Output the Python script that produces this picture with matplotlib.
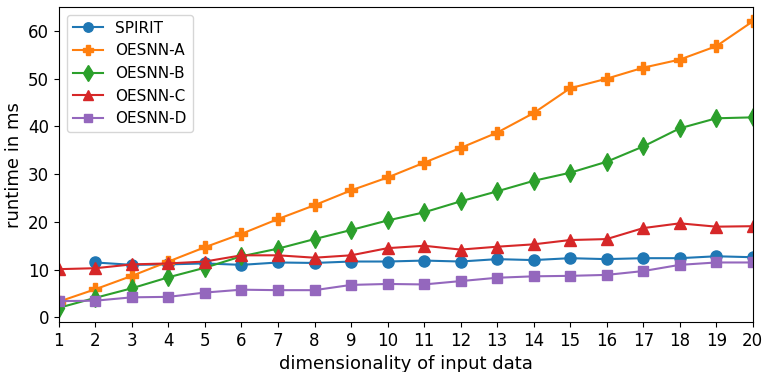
import numpy as np
import matplotlib.pyplot as plt

dims = list(range(1, 21))

spirit = [np.nan, 11.5, 11.0, 11.1, 11.3, 11.0, 11.5, 11.4, 11.7, 11.7,
          11.9, 11.7, 12.2, 12.0, 12.4, 12.2, 12.4, 12.4, 12.8, 12.6]
oesnn_a = [3.3, 5.9, 8.7, 11.7, 14.7, 17.5, 20.6, 23.5, 26.6, 29.3,
           32.4, 35.5, 38.7, 42.8, 48.0, 50.0, 52.3, 54.0, 56.8, 62.0]
oesnn_b = [2.0, 4.1, 6.1, 8.4, 10.4, 12.8, 14.4, 16.4, 18.3, 20.3,
           22.0, 24.3, 26.4, 28.6, 30.3, 32.6, 35.8, 39.6, 41.7, 41.9]
oesnn_c = [10.1, 10.3, 11.1, 11.3, 11.7, 13.0, 13.0, 12.5, 13.0, 14.5,
           15.0, 14.2, 14.8, 15.3, 16.2, 16.4, 18.7, 19.7, 19.0, 19.1]
oesnn_d = [3.4, 3.5, 4.2, 4.3, 5.2, 5.8, 5.7, 5.7, 6.8, 7.0,
           6.9, 7.6, 8.3, 8.6, 8.7, 8.9, 9.7, 11.0, 11.5, 11.5]

fig, ax = plt.subplots(figsize=(7.65, 3.72), dpi=100)
fig.subplots_adjust(left=0.077, right=0.984, top=0.981, bottom=0.134)

ax.plot(dims, spirit, marker='o', markersize=8, label='SPIRIT')
ax.plot(dims, oesnn_a, marker='P', markersize=9, label='OESNN-A')
ax.plot(dims, oesnn_b, marker='d', markersize=9, label='OESNN-B')
ax.plot(dims, oesnn_c, marker='^', markersize=8, label='OESNN-C')
ax.plot(dims, oesnn_d, marker='s', markersize=7, label='OESNN-D')

ax.set_xlim(1, 20)
ax.set_xticks(dims)
ax.tick_params(labelsize=12)
ax.set_xlabel('dimensionality of input data', fontsize=13)
ax.set_ylabel('runtime in ms', fontsize=13)
ax.legend(loc='upper left', fontsize=11, markerscale=0.85)

plt.savefig('out.png', dpi=100)
